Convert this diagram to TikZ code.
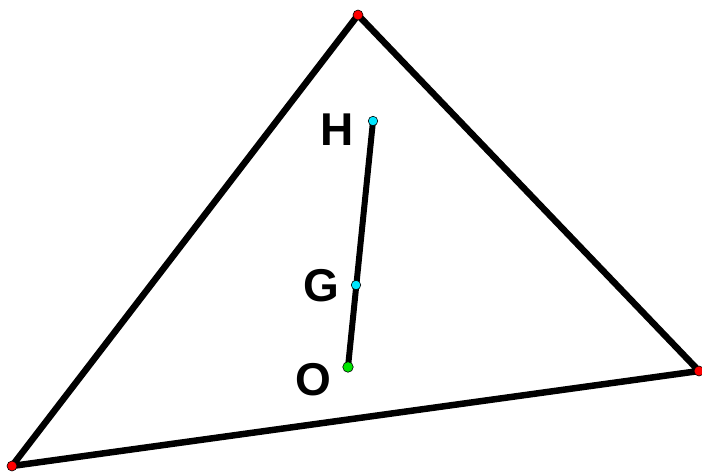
\documentclass[tikz,border=0pt]{standalone}
\usepackage{fontspec}
\setmainfont{Liberation Sans}
\definecolor{ptred}{RGB}{255,0,0}
\definecolor{ptcyan}{RGB}{0,230,255}
\definecolor{ptgreen}{RGB}{0,230,0}
\begin{document}
\begin{tikzpicture}[x=1pt,y=-1pt,
  side/.style={line width=6.5pt,line cap=round,line join=round},
  pt/.style={circle,draw=black,line width=0.6pt,inner sep=0pt,minimum size=10pt},
  lab/.style={font=\fontsize{46}{46}\selectfont\bfseries,inner sep=0pt}]
\useasboundingbox (0,0) rectangle (702,472);
\coordinate (A) at (358,15);
\coordinate (B) at (12,466);
\coordinate (C) at (699,371);
\coordinate (H) at (373,121);
\coordinate (G) at (356,285);
\coordinate (O) at (348,367);
\draw[side] (A) -- (B) -- (C) -- cycle;
\draw[line width=6pt,line cap=round] (H) -- (O);
\node[pt,fill=ptred] (pA) at (A) {};
\node[pt,fill=ptred] (pB) at (B) {};
\node[pt,fill=ptred] (pC) at (C) {};
\node[pt,fill=ptcyan,minimum size=9.5pt] (pH) at (H) {};
\node[pt,fill=ptcyan,minimum size=9.5pt] (pG) at (G) {};
\node[pt,fill=ptgreen,minimum size=10.5pt] (pO) at (O) {};
\node[lab] (lH) at (337,130) {H};
\node[lab] (lG) at (321,286) {G};
\node[lab] (lO) at (313,380) {O};
\end{tikzpicture}
\end{document}
